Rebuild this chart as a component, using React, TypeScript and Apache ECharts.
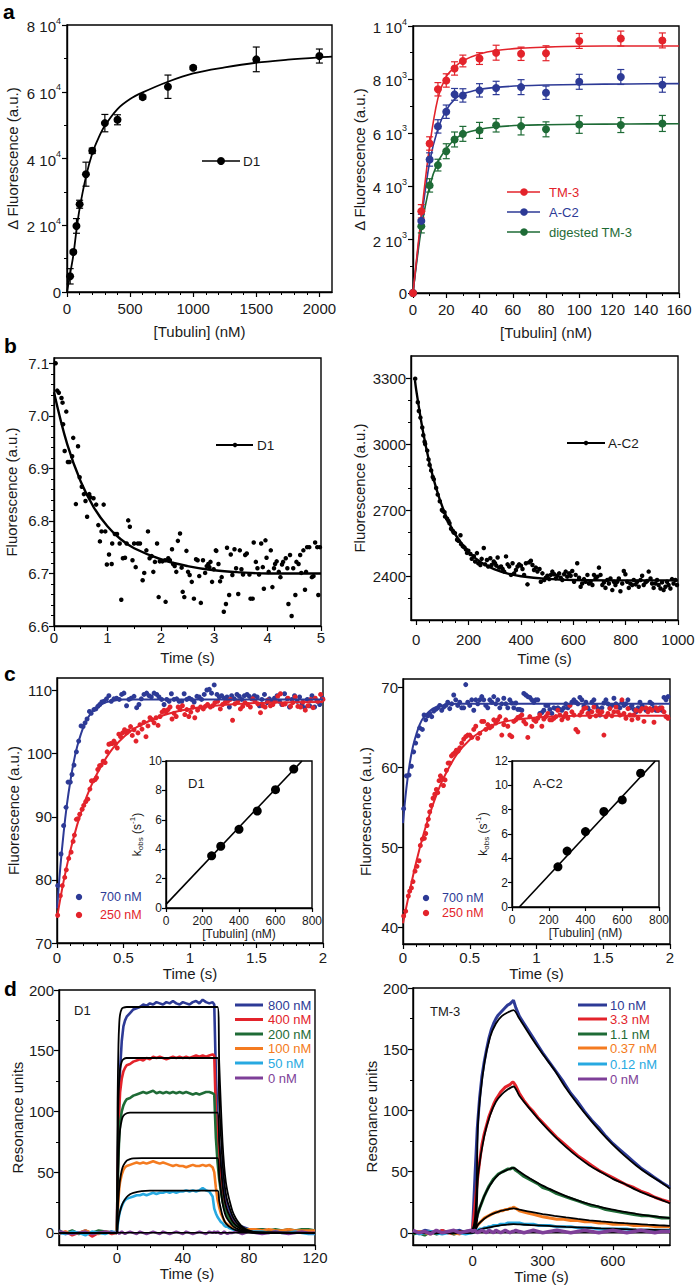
import React, { useEffect, useRef } from "react";
import * as echarts from "echarts";

// ===================== DATA =====================
// ---- Panel a (left): D1 titration
const aLTubulin = [25, 50, 75, 100, 150, 200, 300, 400, 600, 800, 1000, 1500, 2000];
const aLDeltaF = [4700, 12000, 19800, 26300, 35300, 42300, 50600, 51600, 58400, 61500, 67200, 69700, 70700];
const aLErr = [2300, 500, 2200, 1200, 3600, 800, 2600, 1500, 600, 3500, 500, 3700, 2100];
const aLFitX = [0, 25, 50, 75, 100, 150, 200, 250, 300, 400, 500, 600, 800, 1000, 1250, 1500, 1750, 2000, 2100];
const aLFitY = [0, 5500, 11000, 18500, 25000, 34500, 41500, 46200, 49800, 54800, 57800, 59800, 63000, 65500, 67300, 68700, 69600, 70300, 70500];
const aLXTicks = [0, 500, 1000, 1500, 2000];
const aLXMinor = [100, 200, 300, 400, 600, 700, 800, 900, 1100, 1200, 1300, 1400, 1600, 1700, 1800, 1900];
const aLYTicks = [0, 20000, 40000, 60000, 80000];
const aLYMinor = [10000, 30000, 50000, 70000];

// ---- Panel a (right): TM-3, A-C2, digested TM-3
const aRTubulin = [0, 5, 10, 15, 20, 25, 30, 40, 50, 65, 80, 100, 125, 150];
const aRTM3 = [0, 3060, 5600, 7630, 7960, 8410, 8690, 8780, 9000, 8960, 8980, 9440, 9530, 9460];
const aRTM3Err = [0, 250, 250, 250, 250, 250, 220, 220, 280, 250, 280, 280, 280, 280];
const aRAC2 = [0, 2700, 5000, 6240, 6790, 7440, 7400, 7590, 7680, 7710, 7500, 7910, 8090, 7800];
const aRAC2Err = [0, 250, 250, 250, 250, 220, 250, 250, 250, 280, 250, 280, 280, 280];
const aRDig = [0, 2500, 4030, 4790, 5310, 5750, 5960, 6090, 6280, 6250, 6130, 6310, 6290, 6350];
const aRDigErr = [0, 250, 250, 220, 280, 280, 280, 300, 250, 330, 280, 330, 280, 300];
const aRFitX = [0, 5, 10, 15, 20, 25, 30, 40, 50, 65, 80, 100, 130, 160];
const aRFitTM3 = [0, 2900, 5500, 7300, 8100, 8450, 8700, 8950, 9080, 9170, 9210, 9240, 9250, 9250];
const aRFitAC2 = [0, 2700, 4900, 6150, 6850, 7250, 7450, 7620, 7700, 7760, 7790, 7810, 7830, 7840];
const aRFitDig = [0, 2400, 4000, 4900, 5400, 5750, 5950, 6130, 6220, 6280, 6300, 6320, 6330, 6340];
const aRXTicks = [0, 20, 40, 60, 80, 100, 120, 140, 160];
const aRXMinor = [10, 30, 50, 70, 90, 110, 130, 150];
const aRYTicks = [0, 2000, 4000, 6000, 8000, 10000];
const aRYMinor = [1000, 3000, 5000, 7000, 9000];

// ---- Panel b (left): D1 stopped-flow
const bLTime = [0.03,0.06,0.09,0.14,0.16,0.23,0.17,0.2,0.26,0.29,0.36,0.34,0.41,0.45,0.48,0.52,0.56,0.59,0.62,0.66,0.68,0.74,0.79,0.83,0.86,0.89,0.93,0.96,0.99,1.03,1.08,1.09,1.14,1.18,1.23,1.26,1.29,1.33,1.36,1.39,1.42,1.47,1.5,1.53,1.57,1.61,1.66,1.69,1.73,1.76,1.79,1.83,1.86,1.89,1.93,1.96,1.98,2.03,2.08,2.09,2.14,2.17,2.21,2.23,2.26,2.29,2.32,2.36,2.39,2.41,2.44,2.48,2.51,2.54,2.58,2.62,2.66,2.69,2.72,2.75,2.79,2.83,2.86,2.89,2.91,2.93,2.96,2.99,3.03,3.04,3.08,3.11,3.14,3.18,3.22,3.24,3.28,3.31,3.34,3.38,3.41,3.45,3.48,3.51,3.54,3.58,3.61,3.66,3.68,3.72,3.74,3.78,3.81,3.84,3.88,3.91,3.93,3.96,3.98,4.02,4.06,4.09,4.12,4.14,4.17,4.21,4.24,4.27,4.29,4.34,4.37,4.39,4.42,4.45,4.48,4.52,4.54,4.58,4.61,4.63,4.67,4.7,4.72,4.74,4.78,4.83,4.86,4.89,4.93,4.95,4.98];
const bLFluor = [7.100,7.048,7.044,7.034,7.025,7.008,6.984,6.933,6.912,6.912,6.958,6.923,6.832,6.942,6.883,6.865,6.851,6.838,6.808,6.851,6.845,6.843,6.831,6.792,6.761,6.780,6.831,6.780,6.717,6.736,6.718,6.757,6.775,6.775,6.757,6.650,6.729,6.730,6.757,6.801,6.789,6.725,6.757,6.712,6.757,6.757,6.687,6.701,6.744,6.780,6.729,6.733,6.703,6.722,6.757,6.655,6.723,6.723,6.725,6.646,6.729,6.725,6.746,6.718,6.714,6.703,6.762,6.776,6.711,6.665,6.655,6.743,6.703,6.697,6.684,6.652,6.727,6.725,6.695,6.644,6.725,6.701,6.714,6.718,6.712,6.722,6.684,6.708,6.744,6.743,6.718,6.685,6.693,6.627,6.642,6.749,6.659,6.736,6.697,6.746,6.710,6.661,6.744,6.708,6.698,6.735,6.738,6.698,6.652,6.652,6.759,6.722,6.710,6.698,6.757,6.712,6.671,6.763,6.730,6.703,6.744,6.674,6.710,6.718,6.723,6.703,6.693,6.717,6.722,6.729,6.710,6.642,6.735,6.619,6.710,6.659,6.722,6.718,6.735,6.701,6.744,6.669,6.703,6.750,6.750,6.693,6.695,6.759,6.750,6.659,6.750];
const bLFitT = [0, 0.25, 0.5, 0.75, 1, 1.25, 1.5, 2, 2.5, 3, 3.5, 4, 5];
const bLFitF = [7.045, 6.945, 6.875, 6.825, 6.79, 6.765, 6.748, 6.727, 6.714, 6.706, 6.702, 6.7, 6.7];
const bLXTicks = [0, 1, 2, 3, 4, 5];
const bLXMinor = [0.5, 1.5, 2.5, 3.5, 4.5];
const bLYTicks = [6.6, 6.7, 6.8, 6.9, 7.0, 7.1];
const bLYMinor = [6.62, 6.64, 6.66, 6.68, 6.72, 6.74, 6.76, 6.78, 6.82, 6.84, 6.86, 6.88, 6.92, 6.94, 6.96, 6.98, 7.02, 7.04, 7.06, 7.08];

// ---- Panel b (right): A-C2 stopped-flow
const bRTime = [-4,6,10,16,23,27,32,34,42,47,51,57,63,67,76,82,90,98,102,108,110,118,123,127,133,140,143,148,156,161,169,171,178,184,190,194,199,207,212,220,225,232,237,245,250,258,263,270,275,283,288,296,301,306,311,317,324,330,336,343,349,355,362,368,374,381,387,393,400,406,412,419,425,431,438,444,450,457,463,471,476,482,489,495,501,508,514,520,527,533,539,546,552,558,565,571,577,584,590,596,603,609,615,622,628,634,641,647,654,660,666,673,679,685,692,698,704,711,717,723,730,736,742,749,755,761,768,774,780,787,793,799,806,812,818,825,831,838,844,850,857,863,869,876,882,888,895,901,907,914,920,926,933,939,945,952,958,964,971,977,983,990,996];
const bRFluor = [3297,3190,3150,3120,3075,3040,3010,3000,2970,2930,2905,2880,2850,2840,2800,2770,2740,2700,2695,2690,2670,2660,2650,2640,2615,2605,2598,2595,2565,2560,2585,2545,2535,2530,2520,2505,2515,2500,2478,2490,2466,2504,2458,2450,2478,2527,2453,2473,2443,2481,2450,2466,2458,2447,2484,2438,2443,2432,2420,2489,2453,2443,2405,2458,2412,2427,2443,2453,2447,2432,2405,2458,2362,2462,2469,2450,2427,2438,2420,2432,2374,2412,2382,2392,2401,2386,2405,2420,2408,2389,2401,2412,2392,2382,2408,2420,2397,2412,2401,2423,2374,2405,2458,2392,2351,2366,2386,2374,2405,2366,2374,2359,2405,2389,2397,2438,2405,2359,2371,2346,2382,2366,2389,2336,2374,2359,2374,2389,2331,2366,2423,2408,2374,2346,2366,2359,2382,2362,2374,2351,2382,2401,2359,2371,2377,2420,2389,2366,2346,2366,2382,2359,2343,2371,2336,2351,2374,2359,2343,2386,2366,2382,2359];
const bRFitT = [-5, 0, 25, 50, 75, 100, 125, 150, 200, 250, 300, 350, 400, 500, 600, 800, 1000];
const bRFitF = [3290, 3245, 3062, 2917, 2804, 2714, 2643, 2587, 2509, 2460, 2430, 2411, 2399, 2387, 2382, 2380, 2380];
const bRXTicks = [0, 200, 400, 600, 800, 1000];
const bRXMinor = [50, 100, 150, 250, 300, 350, 450, 500, 550, 650, 700, 750, 850, 900, 950];
const bRYTicks = [2400, 2700, 3000, 3300];
const bRYMinor = [2300, 2500, 2600, 2800, 2900, 3100, 3200];

// ---- Panel c (left): D1 kinetics, 700 nM and 250 nM
const cL700T = [0.005,0.03,0.05,0.068,0.083,0.1,0.113,0.128,0.146,0.163,0.181,0.196,0.211,0.226,0.244,0.257,0.277,0.292,0.307,0.322,0.337,0.352,0.372,0.39,0.408,0.428,0.448,0.468,0.486,0.503,0.523,0.541,0.558,0.579,0.599,0.616,0.634,0.654,0.674,0.692,0.709,0.73,0.75,0.767,0.787,0.805,0.825,0.843,0.86,0.88,0.9,0.918,0.938,0.956,0.976,0.994,1.011,1.031,1.052,1.069,1.087,1.107,1.127,1.145,1.162,1.182,1.203,1.22,1.238,1.258,1.278,1.296,1.313,1.333,1.353,1.371,1.389,1.409,1.429,1.446,1.464,1.484,1.505,1.522,1.54,1.56,1.58,1.597,1.615,1.635,1.655,1.673,1.69,1.711,1.731,1.748,1.766,1.786,1.806,1.824,1.842,1.862,1.882,1.899,1.917,1.937,1.957,1.975,1.995];
const cL700F = [79.1,84.1,88.6,91.5,95.5,95.5,96.7,98.2,100.3,102.0,104.4,104.3,104.9,105.5,106.7,106.4,107.0,107.1,107.5,107.8,108.2,108.3,108.7,109.2,108.3,108.7,108.8,108.6,109.4,109.6,107.6,108.6,108.8,109.1,107.3,107.8,108.7,109.4,109.6,109.2,109.0,109.6,109.4,109.0,108.6,107.8,108.6,108.3,109.5,108.6,108.7,108.3,108.3,109.5,108.6,108.8,108.6,108.2,109.1,109.0,108.6,109.4,110.1,110.2,109.6,110.9,109.4,109.0,109.2,108.8,109.0,107.4,109.2,108.7,109.4,109.1,108.6,109.2,109.4,109.1,108.7,109.2,109.0,107.6,108.6,109.4,108.1,108.7,108.3,108.8,109.2,108.3,107.8,109.5,108.7,107.4,108.6,109.2,108.3,109.0,107.8,107.3,108.6,107.6,109.2,107.4,108.3,107.8,108.8];
const cL250T = [0.005,0.025,0.04,0.058,0.07,0.088,0.106,0.121,0.131,0.146,0.158,0.171,0.189,0.201,0.216,0.231,0.247,0.259,0.272,0.287,0.297,0.307,0.32,0.332,0.347,0.362,0.377,0.39,0.403,0.415,0.428,0.44,0.453,0.465,0.478,0.493,0.508,0.523,0.538,0.553,0.566,0.579,0.594,0.609,0.624,0.639,0.654,0.669,0.684,0.699,0.715,0.73,0.745,0.76,0.775,0.79,0.805,0.82,0.835,0.85,0.865,0.88,0.896,0.911,0.926,0.943,0.961,0.976,0.991,1.006,1.021,1.036,1.057,1.08,1.1,1.115,1.132,1.153,1.17,1.187,1.208,1.228,1.245,1.263,1.283,1.303,1.32,1.338,1.359,1.379,1.396,1.414,1.434,1.454,1.472,1.489,1.51,1.53,1.547,1.565,1.585,1.605,1.623,1.64,1.66,1.68,1.698,1.716,1.736,1.756,1.773,1.791,1.811,1.831,1.849,1.867,1.887,1.907,1.925,1.942,1.962,1.982,2.0];
const cL250F = [74.4,77.5,79.1,80.4,81.6,83.4,84.4,86.1,87.1,89.6,89.7,90.4,91.2,91.8,92.4,92.8,94.4,95.7,95.7,95.9,96.2,97.5,98.1,98.2,98.8,98.6,100.3,101.5,101.6,101.6,102.0,101.6,100.9,103.1,102.7,103.3,103.8,103.3,103.6,104.3,102.9,103.8,102.0,103.3,104.6,103.9,105.0,102.7,104.4,105.7,105.4,104.9,105.7,104.5,105.9,106.6,106.9,106.6,107.0,107.4,105.5,106.4,105.9,107.4,107.0,107.6,106.2,107.0,105.9,106.6,107.4,105.7,106.9,107.4,107.1,107.5,107.8,107.4,107.6,108.1,108.3,107.1,107.8,108.1,108.3,108.6,105.3,107.9,108.3,107.1,107.5,108.1,107.8,107.4,108.7,108.3,107.9,106.5,107.6,107.4,108.5,107.6,107.8,108.3,109.1,109.5,107.8,107.9,108.8,107.5,108.1,109.0,107.5,107.4,108.2,106.9,107.6,108.6,107.3,108.8,108.3,109.4,108.6];
const cLFit700T = [0, 0.025, 0.05, 0.075, 0.1, 0.125, 0.15, 0.2, 0.25, 0.3, 0.35, 0.4, 0.5, 2];
const cLFit700F = [75.5, 82, 87.5, 92, 95.6, 98.6, 101, 104.3, 106.3, 107.4, 108, 108.3, 108.6, 108.6];
const cLFit250T = [0, 0.05, 0.1, 0.15, 0.2, 0.25, 0.3, 0.4, 0.5, 0.6, 0.8, 1.0, 1.3, 1.6, 2];
const cLFit250F = [74, 79.8, 84.6, 88.6, 91.9, 94.6, 96.8, 100.3, 102.6, 104.2, 106.1, 107.1, 107.8, 108.1, 108.2];
const cXTicks = [0, 0.5, 1, 1.5, 2];
const cXMinor = [0.1, 0.2, 0.3, 0.4, 0.6, 0.7, 0.8, 0.9, 1.1, 1.2, 1.3, 1.4, 1.6, 1.7, 1.8, 1.9];
const cLYTicks = [70, 80, 90, 100, 110];

// ---- Panel c (right): A-C2 kinetics
const cR700T = [0.005,0.025,0.045,0.063,0.08,0.095,0.113,0.125,0.145,0.158,0.17,0.185,0.2,0.215,0.23,0.245,0.26,0.275,0.29,0.305,0.32,0.335,0.35,0.365,0.38,0.395,0.41,0.425,0.44,0.455,0.47,0.485,0.5,0.515,0.53,0.545,0.56,0.575,0.59,0.605,0.62,0.635,0.65,0.665,0.68,0.695,0.71,0.725,0.74,0.755,0.77,0.785,0.8,0.815,0.83,0.845,0.86,0.875,0.89,0.905,0.92,0.935,0.95,0.965,0.98,0.995,1.01,1.025,1.04,1.055,1.07,1.085,1.1,1.115,1.13,1.145,1.16,1.175,1.19,1.205,1.22,1.235,1.25,1.265,1.28,1.295,1.31,1.325,1.34,1.355,1.37,1.385,1.4,1.415,1.43,1.445,1.46,1.475,1.49,1.505,1.52,1.535,1.55,1.565,1.58,1.595,1.61,1.625,1.64,1.655,1.67,1.685,1.7,1.715,1.73,1.745,1.76,1.775,1.79,1.805,1.82,1.835,1.85,1.865,1.88,1.895,1.91,1.925,1.94,1.955,1.97,1.985];
const cR700F = [54.8,58.9,59.0,60.1,61.9,63.0,63.9,64.9,64.7,66.5,65.9,66.4,66.7,66.3,67.0,67.2,67.4,67.7,67.1,67.5,67.7,68.1,67.3,67.9,69.0,68.4,67.7,68.1,67.4,67.4,70.3,68.1,67.7,68.4,67.1,68.4,67.9,68.4,68.8,68.4,67.7,67.4,68.4,68.1,68.8,67.9,68.4,67.4,67.9,68.6,67.9,67.4,68.4,68.0,67.4,68.0,67.2,67.2,67.1,69.2,69.0,68.8,68.7,68.4,68.1,68.4,68.4,66.7,66.8,67.1,67.7,67.7,67.2,66.7,67.4,67.3,67.4,67.2,67.1,67.4,67.9,67.4,67.7,68.1,68.4,68.1,67.9,68.7,68.4,67.6,68.1,67.4,67.0,68.1,68.4,67.7,67.3,66.5,67.4,68.0,68.4,67.9,67.4,67.7,68.6,67.9,67.6,67.4,68.1,67.7,67.9,68.4,67.4,67.7,67.2,66.9,67.4,68.1,67.7,67.4,67.1,67.2,68.1,67.9,67.4,67.1,67.1,67.4,67.1,68.7,68.4,68.8];
const cR250T = [0.005,0.02,0.04,0.05,0.063,0.075,0.09,0.105,0.12,0.13,0.145,0.16,0.17,0.18,0.19,0.2,0.212,0.225,0.238,0.25,0.26,0.27,0.28,0.29,0.303,0.315,0.325,0.338,0.35,0.363,0.375,0.388,0.4,0.413,0.425,0.44,0.455,0.47,0.485,0.5,0.515,0.53,0.545,0.56,0.575,0.59,0.605,0.62,0.635,0.65,0.665,0.68,0.695,0.71,0.725,0.74,0.755,0.77,0.785,0.8,0.815,0.83,0.845,0.86,0.875,0.89,0.905,0.92,0.935,0.95,0.965,0.98,0.995,1.01,1.025,1.04,1.055,1.07,1.085,1.1,1.115,1.13,1.145,1.16,1.175,1.19,1.205,1.22,1.235,1.25,1.265,1.28,1.295,1.31,1.325,1.34,1.355,1.37,1.385,1.4,1.415,1.43,1.445,1.46,1.475,1.49,1.505,1.52,1.535,1.55,1.565,1.58,1.595,1.61,1.625,1.64,1.655,1.67,1.685,1.7,1.715,1.73,1.745,1.76,1.775,1.79,1.805,1.82,1.835,1.85,1.865,1.88,1.895,1.91,1.925,1.94,1.955,1.97,1.985];
const cR250F = [41.4,42.0,43.9,44.5,44.9,45.7,47.0,47.6,48.3,50.2,51.0,51.1,51.7,52.7,53.5,54.4,55.2,56.1,56.6,57.2,56.8,58.3,58.9,58.6,57.7,58.4,59.6,60.5,60.5,61.4,61.6,61.8,62.1,62.0,62.4,63.0,63.5,63.8,64.0,64.0,63.7,64.7,65.1,63.6,64.2,65.7,65.7,64.7,65.3,64.9,65.1,65.9,65.5,65.9,66.3,64.0,65.3,65.9,65.1,64.0,63.8,65.7,65.9,66.2,66.3,66.5,65.7,65.4,63.7,66.3,65.1,65.9,65.7,66.1,66.5,65.1,66.0,66.3,66.7,65.9,65.9,66.1,66.3,67.1,66.5,65.9,66.3,66.7,66.1,67.7,66.9,66.5,64.7,64.4,66.5,66.9,67.3,67.4,66.7,66.3,66.9,67.5,66.4,67.0,66.7,66.9,64.0,66.3,66.7,67.3,66.4,66.9,67.5,66.9,66.5,68.4,66.7,66.1,67.3,66.5,65.9,66.5,67.1,66.1,67.0,67.3,65.7,67.4,66.9,67.3,67.1,65.6,67.4,67.1,67.3,67.4,66.9,66.3,66.1];
const cRFit700T = [0, 0.025, 0.05, 0.075, 0.1, 0.125, 0.15, 0.2, 0.25, 0.3, 0.4, 2];
const cRFit700F = [53, 57.3, 60.4, 62.6, 64.1, 65.3, 66.1, 67.0, 67.5, 67.7, 67.9, 67.9];
const cRFit250T = [0, 0.05, 0.1, 0.15, 0.2, 0.25, 0.3, 0.4, 0.5, 0.6, 0.7, 0.8, 1.0, 1.3, 2];
const cRFit250F = [40.5, 44.5, 48.2, 51.4, 54.1, 56.5, 58.5, 61.5, 63.4, 64.6, 65.4, 65.8, 66.2, 66.4, 66.4];
const cRYTicks = [40, 50, 60, 70];

// ---- Insets: k_obs vs [Tubulin]
const insTubulin = [250, 300, 400, 500, 600, 700];
const insKobsD1 = [3.55, 4.2, 5.35, 6.6, 8.05, 9.45];
const insFitD1X = [0, 745];
const insFitD1Y = [0.25, 10];
const insKobsAC2 = [3.3, 4.6, 6.2, 7.85, 8.8, 11.0];
const insFitAC2X = [40, 780];
const insFitAC2Y = [0, 12];
const insXTicks = [0, 200, 400, 600, 800];
const insYTicksD1 = [0, 2, 4, 6, 8, 10];
const insYTicksAC2 = [0, 2, 4, 6, 8, 10, 12];

// ---- Panel d (left): SPR, D1
const dLTime = [-35,-31,-27,-23,-19,-15,-11,-7,-3,-0.5, 0,0.5,1,1.5,2,3,4,5,6, 8,10,12,14,16,18,20,22,24,26,28,30,32,34,36,38,40,42,44,46,48,50,52,54,56,58, 59,60,61,62,63,64,65,66,67,68, 70,72,74,76,78,80, 84,88,92,96,100,104,108,112,116,120];
const dL800 = [2,-1,1,0,2,-1,1,0,1,0, 0,45,85,115,135,158,170,175,178, 181,184,185,186,188,187,189,188,190,189,188,190,189,191,189,188,190,189,188,190,191,189,192,190,189,190, 188,130,95,72,56,44,35,28,23,19, 12,8,6,5,4,3, 2,3,2,1,2,1,2,1,1,1];
const dL400 = [-1,1,-2,0,1,-3,0,1,-1,0, 0,45,80,102,116,127,133,136,138, 139,141,142,143,142,144,143,145,144,145,144,143,144,145,144,145,144,145,144,145,146,145,146,145,146,147, 146,99,73,55,43,33,27,21,17,14, 9,6,5,4,3,2, 2,2,1,2,1,2,1,2,1,1];
const dL200 = [1,0,2,-1,1,0,2,1,0,1, 0,35,62,80,91,100,105,108,110, 111,113,114,115,116,115,116,117,115,116,115,116,115,116,115,116,115,116,115,114,115,114,115,116,116,115, 114,78,58,44,34,26,21,17,14,11, 8,6,5,4,3,3, 3,3,2,3,2,3,2,3,3,2];
const dL100 = [0,1,-1,0,2,0,-1,1,0,0, 0,15,28,37,42,48,52,54,55, 56,57,58,57,58,57,58,59,58,57,58,57,56,55,56,55,55,54,55,56,55,55,56,55,56,54, 50,37,27,21,16,13,10,8,7,6, 4,3,3,3,2,3, 3,2,3,2,2,3,2,2,2,2];
const dL50 = [0,-1,1,0,-2,1,0,-1,1,0, 0,6,11,15,18,22,25,27,28, 29,30,31,31,32,31,32,33,32,33,33,34,33,34,33,34,34,35,34,35,34,35,37,35,34,30, 20,16,13,11,9,8,6,5,5,4, 3,2,2,1,2,1, 1,1,0,1,0,0,1,0,-1,-1];
const dL0 = [1,0,-1,0,1,-1,0,1,0,0, 0,1,0,-1,0,1,0,-1,0, 1,0,-1,1,0,-1,0,1,0,-1,1,0,-1,0,1,0,-1,1,0,-1,0,1,0,-1,1,0, 1,0,1,0,-1,0,1,0,-1,0, 0,1,0,-1,0,1, 0,-1,0,1,0,-1,0,1,0,0];
const dLFitT = [-35, 0, 0.5, 1, 1.5, 2, 3, 4, 6, 8, 10, 15, 20, 61, 62, 63, 64, 65, 66, 67, 68, 70, 72, 74, 76, 78, 80, 84, 120];
const dLFit800 = [0,0,110,155,173,180,184.5,185.5,186,186,186,186,186, 186,140,105,75,55,42,34,28,18,12,8,5,3,2,0.5,0];
const dLFit400 = [0,0,75,110,127,135,141,143,144,144,144,144,144, 144,108,81,58,43,32.5,26,21.7,14,9.3,6.2,3.9,2.3,1.6,0.4,0];
const dLFit200 = [0,0,38,62,76,85,93,96.5,98.5,99,99,99,99, 99,74.5,56,40,29.3,22.4,18.1,15,9.6,6.4,4.3,2.7,1.6,1.1,0.3,0];
const dLFit100 = [0,0,17,29,38,44,51.5,55.5,59.5,60.8,61.3,61.5,61.5, 61.5,46.3,34.7,24.8,18.2,13.9,11.3,9.3,6,4,2.6,1.7,1,0.7,0.2,0];
const dLFit50 = [0,0,6,11,15,18,22.5,25.5,29.5,31.8,33,34.3,34.7, 34.8,26.2,19.7,14,10.3,7.9,6.4,5.3,3.4,2.3,1.5,0.9,0.6,0.4,0.1,0];
const dLFit0T = [-35, 120];
const dLFit0 = [0, 0];
const dLLegend = ["800 nM", "400 nM", "200 nM", "100 nM", "50 nM", "0 nM"];
const dLXTicks = [0, 40, 80, 120];
const dLXMinor = [-20, 20, 60, 100];
const dYTicks = [0, 50, 100, 150, 200];
const dYMinor = [25, 75, 125, 175];

// ---- Panel d (right): SPR, TM-3
const dRTime = [-255,-230,-205,-180,-155,-130,-105,-80,-55,-30,-5, 0,10,20,30,40,50,60,70,80,90,100,110,120,130,140,150,160,170,175, 185,200,220,240,260,280,300,330,360,390,420,450,480,510,540,570,600,630,660,690,720,750,780,810,845];
const dR10 = [1,0,2,1,-1,2,0,1,2,0,1, 3,45,85,110,128,140,150,159,166,171,175,178,180,182,184,186,187,189,190, 184,177,171,165,159,153,147,139,131,123,114,107,99,92,86,79,73,68,63,58,53,49,45,41,37];
const dR33 = [0,1,-1,1,0,2,0,-1,1,0,1, 2,22,42,58,72,81,88,95,100,105,109,112,115,117,119,120,121,123,123, 120,114,108,103,99,94,90,84,78,73,68,63,59,55,51,48,45,42,39,37,34,32,29,27,25];
const dR11 = [-1,0,-2,1,-1,0,1,-1,0,1,0, 1,7,14,20,25,30,34,38,41,44,46,48,49,50,51,52,52,53,53, 51,49,46,44,42,40,37,35,32,30,28,26,24,22,21,19,18,17,16,15,14,14,13,12,12];
const dR037 = [0,1,0,-1,1,0,1,0,-1,1,0, 1,3,6,8,10,12,13,14,15,16,17,17,18,18,19,19,20,20,21, 20,18,17,16,15,14,13,12,11,11,10,10,9,9,8,8,7,7,7,6,6,6,5,5,5];
const dR012 = [1,-1,0,1,0,-1,0,1,0,-1,0, 0,1,2,3,3,4,4,5,5,6,6,6,7,7,7,8,8,8,8, 8,8,7,7,7,6,6,6,5,5,5,4,4,4,3,3,3,3,3,2,2,2,2,2,2];
const dR0 = [2,0,1,-1,2,0,1,2,0,1,2, 1,2,0,1,2,1,0,2,1,0,2,1,0,1,2,1,0,1,1, 2,1,0,1,2,1,0,1,2,1,0,1,2,1,0,1,2,1,0,1,2,1,0,1,1];
const dRFitT = [-255, 0, 25, 50, 75, 100, 125, 150, 175, 200, 250, 300, 350, 400, 450, 500, 550, 600, 650, 700, 750, 800, 845];
const dRFit10 = [0, 3, 95, 138, 160, 171, 177, 180, 182, 175, 160, 146, 133, 118, 105, 93, 82, 72, 63, 55, 48, 42, 36];
const dRFit33 = [0, 2, 50, 79, 96, 107, 113, 117, 119.5, 112, 100, 89, 79, 70, 62, 55, 49.5, 44, 40, 35, 31, 27.5, 24];
const dRFit11 = [0, 1, 17, 30, 39, 45.5, 49.5, 51.5, 53, 50, 44, 38.5, 34, 30, 26.5, 23.5, 21, 19, 17, 15.5, 14, 13, 12];
const dRFit037 = [0, 0.5, 7, 11.5, 14.5, 16.5, 18, 19.2, 20, 19, 17, 15.3, 13.8, 12.5, 11.3, 10.2, 9.3, 8.5, 7.8, 7.2, 6.6, 6.1, 5.7];
const dRFit012 = [0, 0, 2, 3.5, 4.5, 5.5, 6.2, 6.7, 7, 6.8, 6.3, 5.8, 5.3, 4.8, 4.4, 4, 3.6, 3.3, 3, 2.7, 2.5, 2.2, 2];
const dRFit0T = [-255, 845];
const dRFit0 = [0, 0];
const dRLegend = ["10 nM", "3.3 nM", "1.1 nM", "0.37 nM", "0.12 nM", "0 nM"];
const dRXTicks = [0, 300, 600];
const dRXMinor = [-200, -100, 100, 200, 400, 500, 700, 800];

// ===================== STYLE =====================
const FONT = "'Liberation Sans', Arial, Helvetica, sans-serif";
const INK = "#1a1a1a";
const RED = "#e3232b";
const BLUE = "#2d3a96";
const GREEN = "#1e6b36";
const ORANGE = "#f47b20";
const CYAN = "#27a9e1";
const PURPLE = "#7e3f98";
const SPR_COLORS = [BLUE, RED, GREEN, ORANGE, CYAN, PURPLE];

function pairs(xs: number[], ys: number[]) {
  const n = Math.min(xs.length, ys.length);
  const out: number[][] = [];
  for (let i = 0; i < n; i++) out.push([xs[i], ys[i]]);
  return out;
}
function triples(xs: number[], ys: number[], es: number[]) {
  const n = Math.min(xs.length, ys.length, es.length);
  const out: number[][] = [];
  for (let i = 0; i < n; i++) out.push([xs[i], ys[i], es[i]]);
  return out;
}

function buildOption() {
  const grids: any[] = [];
  const xAxes: any[] = [];
  const yAxes: any[] = [];
  const series: any[] = [];
  const graphic: any[] = [];

  const addGrid = (left: number, top: number, width: number, height: number, bg = "transparent") => {
    grids.push({
      left, top, width, height, show: true, borderColor: "#000", borderWidth: 1.4,
      backgroundColor: bg, containLabel: false, outerBoundsMode: "none",
    });
    return grids.length - 1;
  };

  const addAxis = (dim: "x" | "y", grid: number, s: any) => {
    const list = dim === "x" ? xAxes : yAxes;
    const pos = dim === "x" ? "bottom" : "left";
    const fs = s.fs ?? 15;
    list.push({
      type: "value", gridIndex: grid, position: pos, min: s.min, max: s.max,
      axisLine: { show: true, onZero: false, lineStyle: { color: "#000", width: 1.4 } },
      axisTick: { show: true, inside: false, length: s.tick ?? 5, customValues: s.majors, lineStyle: { color: "#000", width: 1.2 } },
      axisLabel: {
        show: true, customValues: s.majors, formatter: s.fmt ?? ((v: number) => String(v)),
        margin: s.margin ?? 6, color: INK, fontSize: fs, fontFamily: FONT, rich: s.rich, hideOverlap: false,
      },
      splitLine: { show: false },
      name: s.name, nameLocation: "middle", nameGap: s.gap,
      nameTextStyle: { fontSize: fs, color: INK, fontFamily: FONT, rich: s.nameRich, lineHeight: s.nameLH },
    });
    const idx = list.length - 1;
    if (s.minors && s.minors.length) {
      list.push({
        type: "value", gridIndex: grid, position: pos, min: s.min, max: s.max,
        axisLine: { show: false, onZero: false }, axisLabel: { show: false }, splitLine: { show: false },
        axisTick: { show: true, inside: false, length: 3, customValues: s.minors, lineStyle: { color: "#000", width: 1 } },
      });
    }
    return idx;
  };

  const line = (xi: number, yi: number, data: number[][], color: string, width: number, smooth: any = false, z = 3) => {
    series.push({
      type: "line", xAxisIndex: xi, yAxisIndex: yi, data, showSymbol: false, symbol: "none",
      smooth, lineStyle: { color, width }, z, silent: true,
    });
  };
  const scatter = (xi: number, yi: number, data: number[][], color: string, size: number, z = 4) => {
    series.push({
      type: "scatter", xAxisIndex: xi, yAxisIndex: yi, data, symbol: "circle", symbolSize: size,
      itemStyle: { color, opacity: 1 }, z, silent: true,
    });
  };
  const errBars = (xi: number, yi: number, data: number[][], color: string) => {
    series.push({
      type: "custom", xAxisIndex: xi, yAxisIndex: yi, data, z: 3, silent: true,
      encode: { x: 0, y: 1 },
      renderItem: (_p: any, api: any) => {
        const x = api.value(0), y = api.value(1), e = api.value(2);
        if (!e) return { type: "group", children: [] };
        const t = api.coord([x, y + e]);
        const b = api.coord([x, y - e]);
        const w = 3.5;
        const st = { stroke: color, lineWidth: 1.2 };
        return {
          type: "group",
          children: [
            { type: "line", shape: { x1: t[0], y1: t[1], x2: b[0], y2: b[1] }, style: st },
            { type: "line", shape: { x1: t[0] - w, y1: t[1], x2: t[0] + w, y2: t[1] }, style: st },
            { type: "line", shape: { x1: b[0] - w, y1: b[1], x2: b[0] + w, y2: b[1] }, style: st },
          ],
        };
      },
    });
  };

  const text = (x: number, y: number, s: string, color = INK, fs = 13, extra: any = {}) => {
    graphic.push({
      type: "text", x, y, z: 100, silent: true,
      style: { text: s, fill: color, fontSize: fs, fontFamily: FONT, verticalAlign: "middle", align: "left", ...extra },
    });
  };
  const hline = (x1: number, x2: number, y: number, color: string, lw: number) => {
    graphic.push({ type: "line", z: 100, silent: true, shape: { x1, y1: y, x2, y2: y }, style: { stroke: color, lineWidth: lw } });
  };
  const dot = (cx: number, cy: number, r: number, color: string) => {
    graphic.push({ type: "circle", z: 101, silent: true, shape: { cx, cy, r }, style: { fill: color } });
  };

  const sup4 = (k: number) => (v: number) => (v === 0 ? "0" : `{m|${Math.round(v / Math.pow(10, k))} 10}{s|${k}}`);
  const supRich = {
    m: { fontSize: 15, fontFamily: FONT, color: INK, lineHeight: 18, verticalAlign: "bottom" },
    s: { fontSize: 9, fontFamily: FONT, color: INK, lineHeight: 8, verticalAlign: "top" },
  };
  const aRFmt = (v: number) => {
    if (v === 0) return "0";
    if (v === 10000) return "{m|1 10}{s|4}";
    return `{m|${v / 1000} 10}{s|3}`;
  };
  const kobsName = "k{sub|obs} (s{sup|-1})";
  const kobsRich = {
    sub: { fontSize: 8, fontFamily: FONT, color: INK, lineHeight: 8, verticalAlign: "bottom" },
    sup: { fontSize: 8, fontFamily: FONT, color: INK, lineHeight: 8, verticalAlign: "top" },
  };

  // ---------- a left ----------
  {
    const g = addGrid(67, 25, 265, 267);
    const xi = addAxis("x", g, { min: 0, max: 2100, majors: aLXTicks, minors: aLXMinor, name: "[Tubulin] (nM)", gap: 32, margin: 9 });
    const yi = addAxis("y", g, { min: 0, max: 80000, majors: aLYTicks, minors: aLYMinor, fmt: sup4(4), rich: supRich, name: "Δ Fluorescence (a.u.)", gap: 47, margin: 6 });
    line(xi, yi, pairs(aLFitX, aLFitY), "#000", 1.8, 0.35, 2);
    errBars(xi, yi, triples(aLTubulin, aLDeltaF, aLErr), "#000");
    scatter(xi, yi, pairs(aLTubulin, aLDeltaF), "#000", 8);
    hline(202, 240, 161, "#000", 1.6);
    dot(221, 161, 4, "#000");
    text(243, 161, "D1", INK, 13.5);
  }
  // ---------- a right ----------
  {
    const g = addGrid(413, 26, 266, 267);
    const xi = addAxis("x", g, { min: 0, max: 160, majors: aRXTicks, minors: aRXMinor, name: "[Tubulin] (nM)", gap: 32, margin: 9 });
    const yi = addAxis("y", g, { min: 0, max: 10000, majors: aRYTicks, minors: aRYMinor, fmt: aRFmt, rich: supRich, name: "Δ Fluorescence (a.u.)", gap: 46, margin: 6 });
    const sets: [number[], number[], number[], string][] = [
      [aRDig, aRDigErr, aRFitDig, GREEN],
      [aRAC2, aRAC2Err, aRFitAC2, BLUE],
      [aRTM3, aRTM3Err, aRFitTM3, RED],
    ];
    for (const [ys, es, fit, c] of sets) {
      line(xi, yi, pairs(aRFitX, fit), c, 1.6, 0.35, 2);
      errBars(xi, yi, triples(aRTubulin, ys, es), c);
      scatter(xi, yi, pairs(aRTubulin, ys), c, 8);
    }
    const leg: [string, string, number][] = [["TM-3", RED, 192], ["A-C2", BLUE, 212], ["digested TM-3", GREEN, 232]];
    for (const [t, c, y] of leg) {
      hline(507, 540, y, c, 1.6);
      dot(524, y, 3.8, c);
      text(549, y, t, c, 13);
    }
  }
  // ---------- b left ----------
  {
    const g = addGrid(54, 358, 267, 268);
    const xi = addAxis("x", g, { min: 0, max: 5, majors: bLXTicks, minors: bLXMinor, name: "Time (s)", gap: 24, margin: 4 });
    const yi = addAxis("y", g, { min: 6.6, max: 7.11, majors: bLYTicks, minors: bLYMinor, fmt: (v: number) => v.toFixed(1), name: "Fluorescence (a.u.)", gap: 35, margin: 5 });
    scatter(xi, yi, pairs(bLTime, bLFluor), "#000", 4.5, 3);
    line(xi, yi, pairs(bLFitT, bLFitF), "#000", 2.4, 0.4, 4);
    hline(216, 253, 445, "#000", 2);
    dot(235, 445, 2.2, "#000");
    text(257, 445, "D1", INK, 13.5);
  }
  // ---------- b right ----------
  {
    const g = addGrid(411, 356, 267, 264);
    const xi = addAxis("x", g, { min: -20, max: 1000, majors: bRXTicks, minors: bRXMinor, name: "Time (s)", gap: 31, margin: 12 });
    const yi = addAxis("y", g, { min: 2200, max: 3400, majors: bRYTicks, minors: bRYMinor, name: "Fluorescence (a.u.)", gap: 44, margin: 5 });
    scatter(xi, yi, pairs(bRTime, bRFluor), "#000", 4.5, 3);
    line(xi, yi, pairs(bRFitT, bRFitF), "#000", 2.4, 0.4, 4);
    hline(567, 605, 443, "#000", 2);
    dot(586, 443, 2.2, "#000");
    text(608, 443, "A-C2", INK, 13.5);
  }
  // ---------- c left ----------
  {
    const g = addGrid(57, 678, 266, 265);
    const xi = addAxis("x", g, { min: 0, max: 2, majors: cXTicks, minors: cXMinor, name: "Time (s)", gap: 21, margin: 7 });
    const yi = addAxis("y", g, { min: 70, max: 112, majors: cLYTicks, name: "Fluorescence (a.u.)", gap: 36, margin: 5 });
    scatter(xi, yi, pairs(cL700T, cL700F), BLUE, 5, 3);
    scatter(xi, yi, pairs(cL250T, cL250F), RED, 5, 3);
    line(xi, yi, pairs(cLFit700T, cLFit700F), BLUE, 2, 0.4, 4);
    line(xi, yi, pairs(cLFit250T, cLFit250F), RED, 2, 0.4, 4);
    dot(79, 897, 3.2, BLUE);
    text(100, 897, "700 nM", BLUE, 12.5);
    dot(79, 915, 3.2, RED);
    text(100, 915, "250 nM", RED, 12.5);
  }
  // ---------- c right ----------
  {
    const g = addGrid(403, 679, 267, 265);
    const xi = addAxis("x", g, { min: 0, max: 2, majors: cXTicks, minors: cXMinor, name: "Time (s)", gap: 21, margin: 6 });
    const yi = addAxis("y", g, { min: 37.9, max: 71, majors: cRYTicks, name: "Fluorescence (a.u.)", gap: 30, margin: 5 });
    scatter(xi, yi, pairs(cR700T, cR700F), BLUE, 5, 3);
    scatter(xi, yi, pairs(cR250T, cR250F), RED, 5, 3);
    line(xi, yi, pairs(cRFit700T, cRFit700F), BLUE, 2, 0.4, 4);
    line(xi, yi, pairs(cRFit250T, cRFit250F), RED, 2, 0.4, 4);
    dot(426, 898, 3.2, BLUE);
    text(442, 898, "700 nM", BLUE, 12.5);
    dot(426, 913, 3.2, RED);
    text(442, 913, "250 nM", RED, 12.5);
  }
  // ---------- c insets ----------
  {
    const g = addGrid(166, 761, 146, 147, "#fff");
    const xi = addAxis("x", g, { min: 0, max: 800, majors: insXTicks, name: "[Tubulin] (nM)", gap: 20, margin: 7, fs: 12, tick: 4 });
    const yi = addAxis("y", g, { min: 0, max: 10, majors: insYTicksD1, name: kobsName, nameRich: kobsRich, nameLH: 16, gap: 16, margin: 4, fs: 12, tick: 4 });
    line(xi, yi, pairs(insFitD1X, insFitD1Y), "#000", 1.6, false, 5);
    scatter(xi, yi, pairs(insTubulin, insKobsD1), "#000", 9, 6);
    text(188, 783, "D1", INK, 13);
  }
  {
    const g = addGrid(512, 761, 147, 146, "#fff");
    const xi = addAxis("x", g, { min: 0, max: 800, majors: insXTicks, name: "[Tubulin] (nM)", gap: 20, margin: 7, fs: 12, tick: 4 });
    const yi = addAxis("y", g, { min: 0, max: 12, majors: insYTicksAC2, name: kobsName, nameRich: kobsRich, nameLH: 16, gap: 16, margin: 4, fs: 12, tick: 4 });
    line(xi, yi, pairs(insFitAC2X, insFitAC2Y), "#000", 1.6, false, 5);
    scatter(xi, yi, pairs(insTubulin, insKobsAC2), "#000", 9, 6);
    text(533, 783, "A-C2", INK, 13);
  }
  // ---------- d left ----------
  {
    const g = addGrid(59, 990, 256, 255);
    const xi = addAxis("x", g, { min: -35, max: 120, majors: dLXTicks, minors: dLXMinor, name: "Time (s)", gap: 16, margin: 5 });
    const yi = addAxis("y", g, { min: -10, max: 200, majors: dYTicks, minors: dYMinor, name: "Resonance units", gap: 32, margin: 5 });
    const traces = [dL800, dL400, dL200, dL100, dL50, dL0];
    traces.forEach((tr, i) => line(xi, yi, pairs(dLTime, tr), SPR_COLORS[i], 2.6, false, 2));
    [dLFit800, dLFit400, dLFit200, dLFit100, dLFit50].forEach((f) => line(xi, yi, pairs(dLFitT, f), "#000", 1.8, 0.3, 3));
    line(xi, yi, pairs(dLFit0T, dLFit0), "#000", 1.5, false, 3);
    const rows = [1005, 1019.5, 1034, 1048.5, 1063, 1078];
    rows.forEach((y, i) => {
      hline(235, 263, y, SPR_COLORS[i], 3);
      text(268, y, dLLegend[i], SPR_COLORS[i], 13);
    });
    text(74, 1010, "D1", INK, 13);
  }
  // ---------- d right ----------
  {
    const g = addGrid(413, 988, 257, 257);
    const xi = addAxis("x", g, { min: -255, max: 845, majors: dRXTicks, minors: dRXMinor, name: "Time (s)", gap: 21, margin: 8 });
    const yi = addAxis("y", g, { min: -10, max: 200, majors: dYTicks, minors: dYMinor, name: "Resonance units", gap: 34, margin: 5 });
    const traces = [dR10, dR33, dR11, dR037, dR012];
    traces.forEach((tr, i) => line(xi, yi, pairs(dRTime, tr), SPR_COLORS[i], 3, false, 2));
    [dRFit10, dRFit33, dRFit11, dRFit037, dRFit012].forEach((f) => line(xi, yi, pairs(dRFitT, f), "#000", 1.8, 0.3, 3));
    line(xi, yi, pairs(dRFit0T, dRFit0), "#000", 1.5, false, 3);
    line(xi, yi, pairs(dRTime, dR0), PURPLE, 3.5, false, 4);
    const rows = [1005, 1019, 1034, 1048, 1064, 1079];
    rows.forEach((y, i) => {
      hline(578, 607, y, SPR_COLORS[i], 3);
      text(610, y, dRLegend[i], SPR_COLORS[i], 13);
    });
    text(430, 1011, "TM-3", INK, 13);
  }

  // panel letters
  const letter = (x: number, y: number, s: string) =>
    graphic.push({
      type: "text", x, y, z: 100, silent: true,
      style: { text: s, fill: "#000", fontSize: 21, fontWeight: "bold", fontFamily: FONT, verticalAlign: "middle", align: "left" },
    });
  letter(3, 11, "a");
  letter(4, 345, "b");
  letter(4, 673, "c");
  letter(4, 988, "d");

  return {
    animation: false,
    backgroundColor: "#fff",
    textStyle: { fontFamily: FONT },
    grid: grids,
    xAxis: xAxes,
    yAxis: yAxes,
    series,
    graphic: { elements: graphic },
  };
}

export default function App() {
  const ref = useRef<HTMLDivElement>(null);
  useEffect(() => {
    document.body.style.margin = "0";
    const chart = echarts.init(ref.current!, null, { renderer: "svg" });
    chart.setOption(buildOption() as any);
    return () => chart.dispose();
  }, []);
  return <div ref={ref} style={{ width: 697, height: 1286 }} />;
}
